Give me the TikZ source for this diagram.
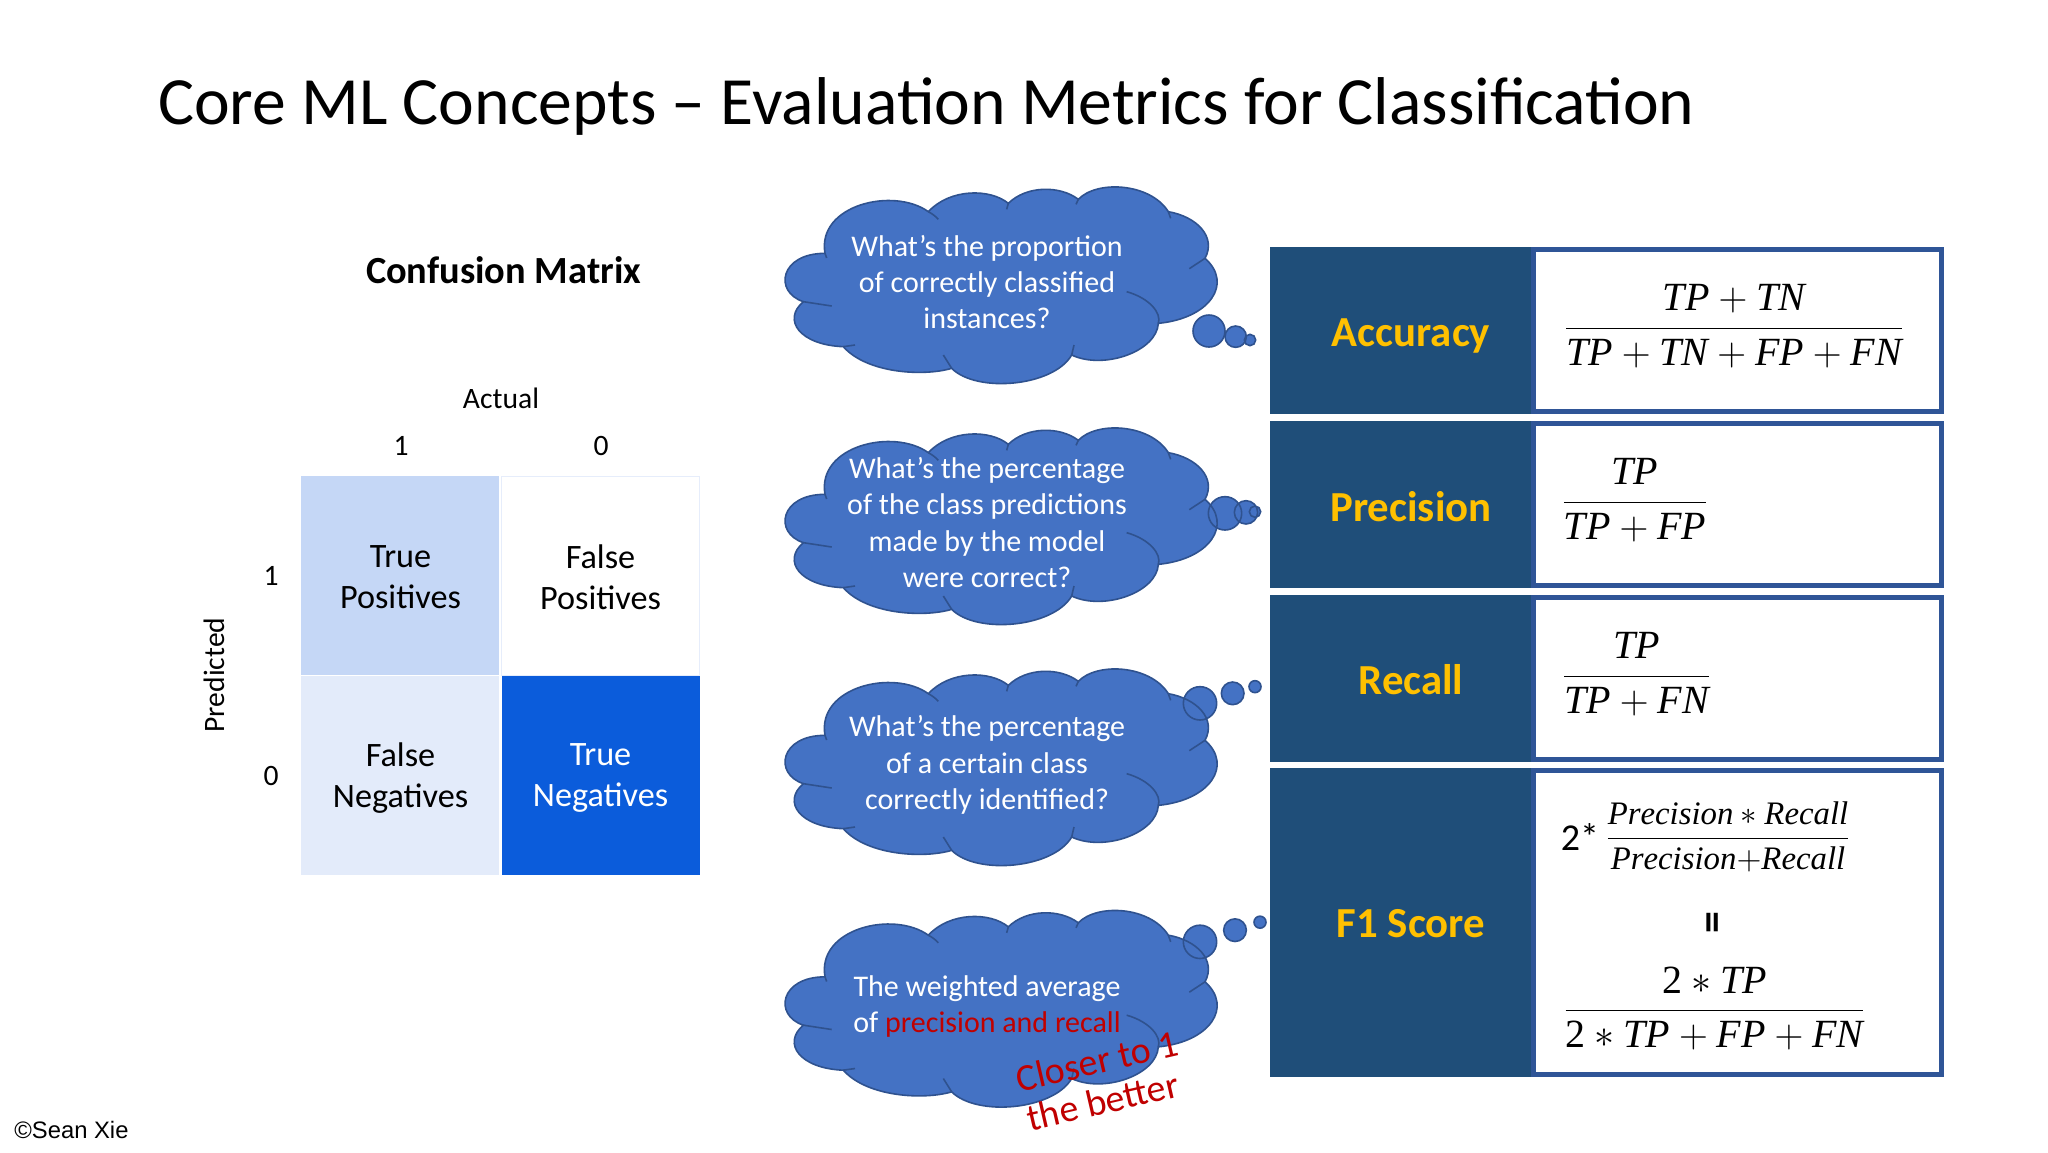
\documentclass[tikz,border=0pt]{standalone}
\usepackage{fix-cm}
\usepackage{fontspec}
\setmainfont{Carlito}
\setmathrm{Liberation Serif}
\newfontfamily\arialfont{Liberation Sans}

\definecolor{cloudblue}{HTML}{4472C4}
\definecolor{cloudline}{HTML}{2F528F}
\definecolor{headblue}{HTML}{1F4E79}
\definecolor{boxline}{HTML}{2F5597}
\definecolor{headyellow}{HTML}{FFC000}
\definecolor{notered}{HTML}{C00000}
\definecolor{cellTPcol}{HTML}{C5D7F6}
\definecolor{cellFNcol}{HTML}{E3EBFA}
\definecolor{cellTNcol}{HTML}{0B5CDB}
\definecolor{cellrim}{HTML}{E6EDFB}

\tikzset{
  cell/.style={minimum width=99pt,minimum height=99.5pt,inner sep=0pt},
  celltext/.style={inner sep=0pt,align=center,font=\fontsize{17.1}{20.6}\selectfont},
  axislabel/.style={inner sep=0pt,font=\fontsize{14.8}{17}\selectfont},
  bubbletext/.style={inner sep=0pt,align=center,text=white,font=\fontsize{15}{18.1}\selectfont},
  headcell/.style={fill=headblue,minimum width=130.5pt,inner sep=0pt},
  headlabel/.style={inner sep=0pt,text=headyellow,font=\fontsize{21.4}{25}\selectfont\bfseries},
  formulacell/.style={fill=white,draw=boxline,line width=2.5pt,minimum width=204.25pt,inner sep=0pt},
  formula/.style={inner sep=0pt,anchor=base,font=\fontsize{20}{24}\selectfont},
  smallformula/.style={inner sep=0pt,anchor=base,font=\fontsize{16.4}{19}\selectfont},
  rednote/.style={inner sep=0pt,text=notered,font=\fontsize{19}{23}\selectfont}
}

\newcommand{\tv}[1]{\mathit{#1}}
\newcommand{\cloudoutline}{(195,250)
  .. controls (170,105) and (400,50) .. (505,125)
  .. controls (570,55) and (690,55) .. (745,100)
  .. controls (800,46) and (900,46) .. (955,88)
  .. controls (1010,30) and (1170,38) .. (1225,125)
  .. controls (1310,140) and (1370,200) .. (1335,265)
  .. controls (1420,340) and (1350,445) .. (1195,460)
  .. controls (1190,545) and (1030,600) .. (935,555)
  .. controls (880,650) and (650,670) .. (575,595)
  .. controls (490,620) and (320,610) .. (250,530)
  .. controls (120,525) and (65,450) .. (130,395)
  .. controls (40,365) and (60,250) .. (195,250) -- cycle}

\newcommand{\thoughtcloud}[2]{
\begin{scope}[shift={(760,#1)},scale=1/3]
\fill[cloudblue] \cloudoutline;
\foreach \bx/\by/\br in {#2}
  \fill[cloudblue] (\bx,\by) circle (\br);
\draw[cloudline,line width=.8pt] \cloudoutline;
\draw[cloudline,line width=.8pt]
  (505,125) .. controls (518,132) and (528,140) .. (535,148)
  (745,100) -- (740,118)
  (955,88) -- (948,103)
  (1225,125) -- (1232,145)
  (1335,265) -- (1288,296)
  (1100,365) .. controls (1170,385) and (1205,430) .. (1195,460)
  (935,555) -- (942,525)
  (575,595) -- (550,555)
  (250,530) -- (285,525)
  (130,395) -- (215,408)
  (195,250) -- (200,264);
\foreach \bx/\by/\br in {#2}
  \draw[cloudline,line width=.8pt] (\bx,\by) circle (\br);
\end{scope}
}

\begin{document}
\begin{tikzpicture}[x=.5pt,y=-.5pt]
\useasboundingbox[fill=white] (0,0) rectangle (2048,1152);

\node[inner sep=0pt,font=\fontsize{33.8}{40}\selectfont] (title) at (926.5,106) {Core ML Concepts -- Evaluation Metrics for Classification};
\node[inner sep=0pt,font=\fontsize{19.2}{23}\selectfont\bfseries] (cmtitle) at (503.5,270.5) {Confusion Matrix};

% matrix
\node[cell,fill=cellTPcol] (cellTP) at (400,575.5) {};
\node[cell,fill=white,draw=cellrim] (cellFP) at (600.5,575.5) {};
\node[cell,fill=cellFNcol] (cellFN) at (400,775) {};
\node[cell,fill=cellTNcol] (cellTN) at (600.5,775) {};
\node[celltext] (textTP) at (400.5,577.5) {True\\Positives};
\node[celltext] (textFP) at (600.5,577.5) {False\\Positives};
\node[celltext] (textFN) at (400.5,778) {False\\Negatives};
\node[celltext,text=white] (textTN) at (600.5,778) {True\\Negatives};

\node[axislabel] (actual) at (501,398) {Actual};
\node[axislabel] (actualone) at (401,446) {1};
\node[axislabel] (actualzero) at (601,446) {0};
\node[axislabel,rotate=90] (predicted) at (214,675) {Predicted};
\node[axislabel] (predone) at (271,576) {1};
\node[axislabel] (predzero) at (271,776) {0};

% clouds
\thoughtcloud{170}{1347/483/48,1427/500/32,1470/510/17}
\thoughtcloud{411}{1395/307/50,1458/304/35,1485/302/17}
\thoughtcloud{652}{1320/154/50,1418/124/34,1485/104/18}
\thoughtcloud{893.5}{1320/145/50,1425/110/34,1500/86/18}

\node[bubbletext] (qaccuracy) at (987,282) {What’s the proportion\\of correctly classified\\instances?};
\node[bubbletext] (qprecision) at (987,522.5) {What’s the percentage\\of the class predictions\\made by the model\\were correct?};
\node[bubbletext] (qrecall) at (987,765) {What’s the percentage\\of a certain class\\correctly identified?};
\node[bubbletext] (qfone) at (987,1006.5) {The weighted average\\of \textcolor{notered}{precision and recall}};
\node[rednote,rotate=13] (closer) at (1097,1061) {Closer to 1};
\node[rednote,rotate=13] (better) at (1103,1101) {the better};

% metric table
\foreach \nm/\cy/\hh in {accuracy/330/81,precision/504/81,recall/678.5/81,fone/922.5/152}
{
  \node[formulacell,minimum height=\hh pt] (val\nm) at (1737.25,\cy) {};
  \node[headcell,minimum height=\hh pt+2.5pt] (head\nm) at (1400.5,\cy) {};
}
\foreach \nm/\cy/\txt in {accuracy/336/Accuracy,precision/506.5/Precision,recall/680/Recall,fone/924/F1 Score}
  \node[headlabel] (lbl\nm) at (1411,\cy) {\txt};

\node[formula] (fmaccuracy) at (1734,338) {$\displaystyle\frac{\tv{TP}+\tv{TN}}{\tv{TP}+\tv{TN}+\tv{FP}+\tv{FN}}$};
\node[formula] (fmprecision) at (1635,512) {$\displaystyle\frac{\tv{TP}}{\tv{TP}+\tv{FP}}$};
\node[formula] (fmrecall) at (1636.5,686) {$\displaystyle\frac{\tv{TP}}{\tv{TP}+\tv{FN}}$};
\node[formula,font=\fontsize{19}{23}\selectfont] (fmtwo) at (1580,850) {2*};
\node[smallformula] (fmfone) at (1728,847) {$\displaystyle\frac{\tv{Precision}*\tv{Recall}}{\tv{Precision}{+}\tv{Recall}}$};
\node[inner sep=0pt,rotate=90,font=\fontsize{22}{26}\selectfont\bfseries] (fmequal) at (1716.5,923) {=};
\node[formula] (fmftwo) at (1714.5,1020.5) {$\displaystyle\frac{\mathrm{2}*\tv{TP}}{\mathrm{2}*\tv{TP}+\tv{FP}+\tv{FN}}$};

\node[inner sep=0pt,anchor=west,font=\fontsize{11.9}{14}\selectfont\arialfont] (credit) at (14,1130) {©Sean Xie};
\end{tikzpicture}
\end{document}
